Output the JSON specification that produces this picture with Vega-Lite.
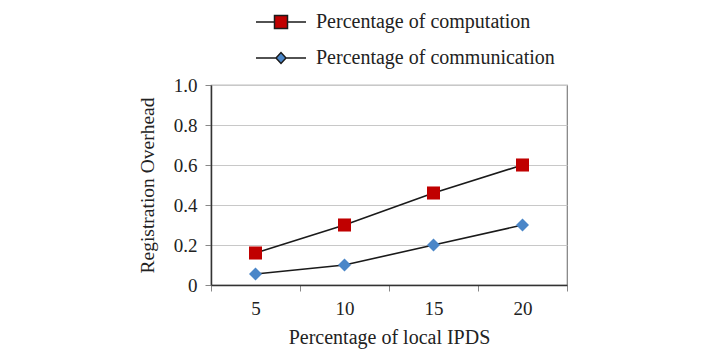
{
  "$schema": "https://vega.github.io/schema/vega-lite/v6.json",
  "width": 356,
  "height": 200,
  "autosize": {"type": "none"},
  "padding": {"left": 211, "top": 85, "right": 150, "bottom": 69},
  "background": "white",
  "config": {
    "font": "Liberation Serif",
    "view": {"stroke": "#7f7f7f", "strokeWidth": 1.2},
    "axis": {"labelFont": "Liberation Serif", "titleFont": "Liberation Serif", "labelColor": "#222", "titleColor": "#222", "titleFontWeight": "normal"}
  },
  "data": {
    "values": [
      {"ipds": "5", "series": "Percentage of computation", "value": 0.16},
      {"ipds": "10", "series": "Percentage of computation", "value": 0.30},
      {"ipds": "15", "series": "Percentage of computation", "value": 0.46},
      {"ipds": "20", "series": "Percentage of computation", "value": 0.60},
      {"ipds": "5", "series": "Percentage of communication", "value": 0.055},
      {"ipds": "10", "series": "Percentage of communication", "value": 0.10},
      {"ipds": "15", "series": "Percentage of communication", "value": 0.20},
      {"ipds": "20", "series": "Percentage of communication", "value": 0.30}
    ]
  },
  "encoding": {
    "x": {
      "field": "ipds", "type": "ordinal", "sort": ["5", "10", "15", "20"],
      "scale": {"type": "band", "paddingInner": 0, "paddingOuter": 0},
      "axis": {
        "title": "Percentage of local IPDS", "labelAngle": 0, "tickBand": "extent",
        "labelFontSize": 19, "titleFontSize": 20, "domainColor": "#333", "domainWidth": 1.5,
        "tickColor": "#888", "tickSize": 6, "labelPadding": 8, "titlePadding": 9
      }
    },
    "y": {
      "field": "value", "type": "quantitative",
      "scale": {"domain": [0, 1]},
      "axis": {
        "title": "Registration Overhead", "values": [0, 0.2, 0.4, 0.6, 0.8, 1.0],
        "labelExpr": "datum.value == 0 ? '0' : format(datum.value, '.1f')",
        "labelFontSize": 19, "titleFontSize": 19.5, "grid": true, "gridColor": "#c8c8c8",
        "domainColor": "#333", "domainWidth": 1.5, "tickColor": "#888", "tickSize": 6,
        "labelPadding": 8, "titlePadding": 16
      }
    }
  },
  "layer": [
    {
      "mark": {"type": "line", "color": "#1a1a1a", "strokeWidth": 1.6},
      "encoding": {"detail": {"field": "series"}}
    },
    {
      "transform": [{"filter": "datum.series == 'Percentage of computation'"}],
      "mark": {"type": "point", "shape": "square", "filled": true, "color": "#c00000", "size": 170, "opacity": 1}
    },
    {
      "transform": [{"filter": "datum.series == 'Percentage of communication'"}],
      "mark": {"type": "point", "shape": "diamond", "filled": true, "color": "#4a86c8", "size": 170, "opacity": 1}
    },
    {
      "mark": {"type": "point", "filled": true, "opacity": 0},
      "encoding": {
        "color": {
          "field": "series", "type": "nominal",
          "scale": {"domain": ["Percentage of computation", "Percentage of communication"], "range": ["#c00000", "#4a86c8"]},
          "legend": {
            "title": null, "orient": "none", "legendX": 44, "legendY": -89, "direction": "vertical",
            "labelFont": "Liberation Serif", "labelFontSize": 20, "labelColor": "#222", "labelLimit": 0,
            "symbolSize": 2500, "symbolStrokeColor": "#1a1a1a", "symbolStrokeWidth": 1.5,
            "labelOffset": 9, "rowPadding": -20,
            "encode": {"symbols": {"update": {"opacity": {"value": 1}}}}
          }
        },
        "shape": {
          "field": "series", "type": "nominal",
          "scale": {"domain": ["Percentage of computation", "Percentage of communication"],
            "range": ["M-1,0H-0.26M0.26,0H1M-0.26,-0.26H0.26V0.26H-0.26Z", "M-1,0H-0.2M0.2,0H1M-0.2,0L0,-0.22L0.2,0L0,0.22Z"]},
          "legend": {
            "title": null, "orient": "none", "legendX": 44, "legendY": -89, "direction": "vertical",
            "labelFont": "Liberation Serif", "labelFontSize": 20, "labelColor": "#222", "labelLimit": 0,
            "symbolSize": 2500, "symbolStrokeColor": "#1a1a1a", "symbolStrokeWidth": 1.5,
            "labelOffset": 9, "rowPadding": -20,
            "encode": {"symbols": {"update": {"opacity": {"value": 1}}}}
          }
        }
      }
    }
  ]
}
